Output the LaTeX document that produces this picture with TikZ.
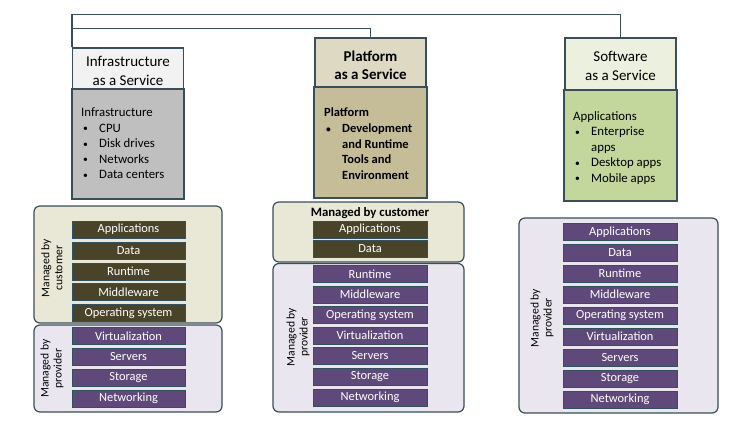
\documentclass[tikz,border=0pt]{standalone}
\usepackage{fontspec}
\setmainfont{Carlito}
\definecolor{edge}{HTML}{3A4E5A}
\definecolor{iaasT}{HTML}{F2F2F2}
\definecolor{iaasB}{HTML}{BFBFBF}
\definecolor{paasT}{HTML}{DDD9C3}
\definecolor{paasB}{HTML}{C4BD97}
\definecolor{saasT}{HTML}{EBF1DE}
\definecolor{saasB}{HTML}{C3D69B}
\definecolor{custR}{HTML}{E9E7D5}
\definecolor{provR}{HTML}{EAE6F0}
\definecolor{custBar}{HTML}{494429}
\definecolor{provBar}{HTML}{5F497A}
\definecolor{barEdge}{HTML}{33505C}
\tikzset{
  x=1pt, y=-1pt,
  svc/.style={draw=edge, line width=1.3pt, rectangle, inner sep=0pt, minimum width=111pt},
  ttltxt/.style={align=center, inner sep=0pt, font=\fontsize{15}{19}\selectfont},
  bodytxt/.style={anchor=north west, align=left, inner sep=0pt, font=\fontsize{12.8}{15.6}\selectfont},
  region/.style={draw=edge, line width=1.2pt, rounded corners=6pt},
  layer/.style={draw=barEdge, line width=0.8pt, rectangle, inner sep=0pt, minimum width=113pt, minimum height=17pt, text=white, font=\fontsize{12.4}{13}\selectfont},
  cbar/.style={layer, fill=custBar},
  pbar/.style={layer, fill=provBar},
  mlabel/.style={rotate=90, align=center, inner sep=0pt, font=\fontsize{11.6}{13}\selectfont},
  conn/.style={draw=edge, line width=1.3pt},
}
\newcommand{\bl}{\hspace*{2pt}\makebox[16pt][l]{\raisebox{0.5pt}{\scalebox{0.75}{\textbullet}}}}
\newcommand{\cont}{\hspace*{18pt}}
\begin{document}
\begin{tikzpicture}
\fill[white] (0,0) rectangle (746,439);
\useasboundingbox (0,0) rectangle (746,439);

% ---------- top boxes ----------
\node[svc, fill=iaasT, minimum height=41pt] (iaasT) at (128,68.5) {};
\node[ttltxt] (iaasTT) at (128,71) {Infrastructure\\as a Service};
\node[svc, fill=iaasB, minimum width=112pt, minimum height=110pt] (iaasB) at (128,144) {};
\node[bodytxt] (iaasTxt) at (81,107.5) {Infrastructure\\\bl CPU\\\bl Disk drives\\\bl Networks\\\bl Data centers};

\node[svc, fill=paasT, minimum height=49pt] (paasT) at (370.5,62.5) {};
\node[ttltxt, font=\fontsize{15}{18.5}\selectfont\bfseries] (paasTT) at (370.5,65.5) {Platform\\as a Service};
\node[svc, fill=paasB, minimum width=113pt, minimum height=111pt] (paasB) at (370.5,142.5) {};
\node[bodytxt, font=\fontsize{12.5}{15.6}\selectfont\bfseries] (paasTxt) at (324,108) {Platform\\\bl Development\\\cont and Runtime\\\cont Tools and\\\cont Environment};

\node[svc, fill=saasT, minimum height=52pt] (saasT) at (620.5,64) {};
\node[ttltxt] (saasTT) at (620.5,66) {Software\\as a Service};
\node[svc, fill=saasB, minimum width=113pt, minimum height=111pt] (saasB) at (620.5,145.5) {};
\node[bodytxt] (saasTxt) at (573,111) {Applications\\\bl Enterprise\\\cont apps\\\bl Desktop apps\\\bl Mobile apps};

% ---------- connectors ----------
\draw[conn] (iaasT.north west) -- ++(0,-33) -| (saasT.north);
\draw[conn] (iaasT.north west) -- ++(0,-19) -| (paasT.north);

% ---------- IaaS stack ----------
\draw[region, fill=custR] (34,206) rectangle (222,323);
\draw[region, fill=provR] (34,325) rectangle (222,412);
\node[mlabel] (iaasCL) at (52,268) {Managed by\\customer};
\node[mlabel] (iaasPL) at (52,368.5) {Managed by\\provider};
\node[cbar] (i1) at (128.5,229.5) {Applications};
\node[cbar] (i2) at (128.5,250.5) {Data};
\node[cbar] (i3) at (128.5,271.5) {Runtime};
\node[cbar] (i4) at (128.5,292) {Middleware};
\node[cbar] (i5) at (128.5,313) {Operating system};
\node[pbar] (i6) at (128.5,336) {Virtualization};
\node[pbar] (i7) at (128.5,357) {Servers};
\node[pbar] (i8) at (128.5,378) {Storage};
\node[pbar] (i9) at (128.5,398.5) {Networking};

% ---------- PaaS stack ----------
\draw[region, fill=custR] (273,202) rectangle (464,262);
\draw[region, fill=provR] (273,263.5) rectangle (464,412);
\node[font=\fontsize{12.8}{14}\selectfont\bfseries, inner sep=0pt] (paasCL) at (370,213) {Managed by customer};
\node[mlabel] (paasPL) at (298,337) {Managed by\\provider};
\node[cbar, minimum width=114pt] (p1) at (370,229.5) {Applications};
\node[cbar, minimum width=114pt] (p2) at (370,249) {Data};
\node[pbar, minimum width=114pt] (p3) at (370,274) {Runtime};
\node[pbar, minimum width=114pt] (p4) at (370,294.5) {Middleware};
\node[pbar, minimum width=114pt] (p5) at (370,315) {Operating system};
\node[pbar, minimum width=114pt] (p6) at (370,335.5) {Virtualization};
\node[pbar, minimum width=114pt] (p7) at (370,356) {Servers};
\node[pbar, minimum width=114pt] (p8) at (370,377) {Storage};
\node[pbar, minimum width=114pt] (p9) at (370,397.5) {Networking};

% ---------- SaaS stack ----------
\draw[region, fill=provR] (519,218) rectangle (718,413);
\node[mlabel] (saasPL) at (542,318) {Managed by\\provider};
\node[pbar, minimum width=114pt] (s1) at (620,232) {Applications};
\node[pbar, minimum width=114pt] (s2) at (620,252.5) {Data};
\node[pbar, minimum width=114pt] (s3) at (620,273.5) {Runtime};
\node[pbar, minimum width=114pt] (s4) at (620,294.5) {Middleware};
\node[pbar, minimum width=114pt] (s5) at (620,315.5) {Operating system};
\node[pbar, minimum width=114pt] (s6) at (620,336.5) {Virtualization};
\node[pbar, minimum width=114pt] (s7) at (620,357.5) {Servers};
\node[pbar, minimum width=114pt] (s8) at (620,378.5) {Storage};
\node[pbar, minimum width=114pt] (s9) at (620,399.5) {Networking};
\end{tikzpicture}
\end{document}
